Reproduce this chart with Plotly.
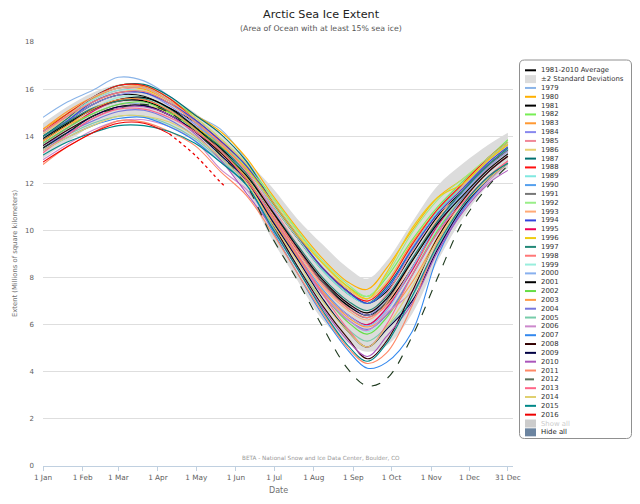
import plotly.graph_objects as go

# day of year for each sample
days = [1, 20, 40, 60, 80, 100, 120, 140, 160, 180, 200, 220, 240, 255, 270, 290, 310, 330, 350, 365]

avg_1981_2010 = [13.8, 14.5, 15.15, 15.5, 15.5, 15.05, 14.4, 13.5, 12.35, 10.75, 9.2, 7.8, 6.8, 6.4, 6.9, 8.4, 10.3, 11.7, 12.8, 13.4]
sd2_upper = [14.55, 15.25, 15.85, 16.2, 16.2, 15.67, 15.0, 14.1, 13.0, 11.85, 10.5, 9.4, 8.4, 7.95, 8.7, 10.35, 11.9, 12.85, 13.65, 14.15]
sd2_lower = [13.05, 13.75, 14.45, 14.8, 14.8, 14.43, 13.8, 12.9, 11.7, 9.65, 7.9, 6.2, 5.2, 4.85, 5.1, 6.45, 8.7, 10.55, 11.95, 12.65]

e1979 = [14.8, 15.45, 15.95, 16.5, 16.35, 15.7, 14.9, 14.3, 13.0, 11.35, 9.8, 8.4, 7.4, 6.9, 7.5, 9.3, 10.9, 12.1, 13.1, 13.75]
e1980 = [14.3, 14.95, 15.6, 16.05, 16.0, 15.5, 14.9, 14.2, 13.1, 11.55, 10.1, 8.8, 7.8, 7.5, 8.4, 10.0, 11.4, 12.2, 13.1, 13.75]
e1981 = [14.0, 14.65, 15.35, 15.75, 15.7, 15.2, 14.6, 13.7, 12.65, 11.15, 9.7, 8.4, 7.4, 6.9, 7.4, 9.0, 10.6, 11.7, 12.7, 13.45]
e1982 = [14.2, 14.95, 15.65, 16.15, 16.15, 15.6, 14.8, 13.9, 12.85, 11.45, 10.0, 8.6, 7.6, 7.2, 8.0, 9.6, 11.0, 12.1, 13.1, 13.85]
e1983 = [14.3, 15.05, 15.65, 16.05, 16.1, 15.5, 14.7, 13.8, 12.75, 11.15, 9.7, 8.4, 7.5, 7.1, 7.8, 9.5, 10.9, 12.0, 13.1, 13.75]
e1984 = [14.0, 14.65, 15.35, 15.75, 15.85, 15.3, 14.5, 13.6, 12.45, 10.95, 9.3, 7.9, 6.9, 6.4, 7.1, 8.8, 10.4, 11.7, 12.8, 13.45]
e1985 = [14.2, 14.85, 15.55, 15.95, 16.05, 15.5, 14.7, 13.8, 12.65, 11.05, 9.4, 7.9, 6.9, 6.5, 7.3, 9.1, 10.7, 11.8, 12.9, 13.55]
e1986 = [14.1, 14.75, 15.45, 15.85, 15.95, 15.4, 14.8, 13.9, 12.85, 11.35, 9.9, 8.6, 7.5, 7.1, 7.8, 9.4, 10.9, 12.0, 13.1, 13.75]
e1987 = [14.0, 14.75, 15.65, 16.15, 16.2, 15.7, 14.9, 14.1, 12.95, 11.25, 9.7, 8.3, 7.3, 6.9, 7.6, 9.2, 10.8, 11.9, 13.0, 13.65]
e1988 = [14.2, 14.95, 15.65, 16.15, 16.15, 15.6, 14.7, 13.8, 12.75, 11.25, 9.7, 8.4, 7.4, 7.0, 7.7, 9.4, 10.9, 12.0, 13.1, 13.75]
e1989 = [14.1, 14.85, 15.55, 15.95, 15.9, 15.4, 14.6, 13.7, 12.65, 11.15, 9.7, 8.3, 7.3, 6.9, 7.5, 9.2, 10.8, 11.9, 13.0, 13.65]
e1990 = [14.2, 14.85, 15.65, 16.05, 16.05, 15.5, 14.6, 13.6, 12.35, 10.65, 9.0, 7.5, 6.4, 6.0, 6.7, 8.4, 10.3, 11.6, 12.8, 13.45]
e1991 = [13.85, 14.6, 15.1, 15.5, 15.6, 15.05, 14.3, 13.4, 12.35, 10.75, 9.2, 7.8, 6.7, 6.3, 7.0, 8.7, 10.4, 11.7, 12.8, 13.4]
e1992 = [13.9, 14.65, 15.45, 15.85, 15.85, 15.4, 14.6, 13.7, 12.75, 11.45, 10.0, 8.7, 7.7, 7.2, 8.1, 9.9, 11.3, 12.2, 13.1, 13.75]
e1993 = [14.1, 14.85, 15.65, 16.05, 16.05, 15.5, 14.7, 13.7, 12.45, 10.75, 9.1, 7.6, 6.6, 6.2, 6.9, 8.7, 10.5, 11.9, 13.0, 13.65]
e1994 = [13.9, 14.65, 15.45, 15.85, 15.85, 15.4, 14.7, 13.8, 12.75, 11.25, 9.8, 8.4, 7.4, 6.9, 7.5, 9.2, 10.7, 11.8, 12.9, 13.55]
e1995 = [13.7, 14.35, 15.05, 15.55, 15.55, 15.1, 14.3, 13.4, 12.25, 10.55, 8.9, 7.4, 6.4, 6.0, 6.7, 8.3, 10.2, 11.5, 12.6, 13.25]
e1996 = [13.8, 14.45, 14.95, 15.35, 15.35, 15.0, 14.4, 13.6, 12.65, 11.25, 9.8, 8.6, 7.6, 7.1, 8.2, 10.1, 11.4, 12.0, 13.0, 13.65]
e1997 = [14.0, 14.6, 15.2, 15.5, 15.6, 15.15, 14.35, 13.55, 12.45, 10.85, 9.4, 8.0, 7.0, 6.6, 7.2, 8.8, 10.4, 11.7, 12.8, 13.5]
e1998 = [14.2, 14.85, 15.45, 15.85, 15.9, 15.4, 14.6, 13.7, 12.55, 10.85, 9.2, 7.7, 6.7, 6.3, 6.8, 8.4, 10.1, 11.5, 12.7, 13.35]
e1999 = [13.9, 14.55, 15.15, 15.65, 15.65, 15.1, 14.3, 13.4, 12.35, 10.55, 8.8, 7.3, 6.2, 5.7, 6.3, 8.1, 10.1, 11.5, 12.6, 13.25]
e2000 = [13.7, 14.35, 14.95, 15.35, 15.35, 14.9, 14.2, 13.2, 12.15, 10.55, 8.9, 7.4, 6.4, 5.95, 6.6, 8.4, 10.3, 11.6, 12.7, 13.35]
e2001 = [13.9, 14.55, 15.15, 15.55, 15.65, 15.2, 14.4, 13.4, 12.35, 10.85, 9.3, 7.9, 6.9, 6.5, 7.1, 8.7, 10.3, 11.5, 12.6, 13.25]
e2002 = [13.7, 14.35, 14.95, 15.35, 15.45, 15.0, 14.3, 13.4, 12.25, 10.55, 8.8, 7.3, 6.1, 5.6, 6.3, 8.1, 10.0, 11.4, 12.5, 13.15]
e2003 = [13.8, 14.45, 15.15, 15.55, 15.55, 15.1, 14.3, 13.3, 12.25, 10.55, 8.9, 7.4, 6.3, 5.9, 6.4, 7.8, 9.7, 11.3, 12.5, 13.15]
e2004 = [13.6, 14.15, 14.65, 15.05, 15.1, 14.7, 14.0, 13.1, 12.05, 10.45, 8.8, 7.3, 6.2, 5.8, 6.4, 8.1, 9.9, 11.4, 12.5, 13.15]
e2005 = [13.5, 14.05, 14.55, 14.85, 14.85, 14.5, 13.9, 13.0, 11.95, 10.25, 8.5, 7.0, 5.8, 5.3, 5.9, 7.2, 9.3, 11.1, 12.2, 12.85]
e2006 = [13.0, 13.65, 14.25, 14.65, 14.7, 14.4, 13.8, 12.6, 11.75, 10.35, 8.8, 7.3, 6.2, 5.75, 6.5, 7.4, 9.2, 10.9, 12.1, 12.85]
e2007 = [13.4, 13.95, 14.45, 14.75, 14.8, 14.4, 13.8, 12.9, 11.95, 10.05, 8.2, 6.4, 4.9, 4.15, 4.4, 5.7, 8.9, 10.9, 12.2, 12.95]
e2008 = [13.6, 14.25, 14.85, 15.25, 15.3, 14.9, 14.2, 13.3, 12.15, 10.35, 8.5, 6.8, 5.4, 4.55, 5.3, 7.4, 9.7, 11.3, 12.5, 13.15]
e2009 = [13.5, 14.15, 14.85, 15.25, 15.3, 14.9, 14.2, 13.2, 12.15, 10.45, 8.8, 7.1, 5.7, 5.05, 5.8, 7.0, 9.2, 11.0, 12.2, 12.85]
e2010 = [13.4, 14.05, 14.75, 15.2, 15.25, 14.9, 14.1, 13.0, 11.6, 10.15, 8.4, 6.7, 5.3, 4.65, 5.5, 6.9, 9.1, 10.8, 12.0, 12.55]
e2011 = [12.8, 13.55, 14.15, 14.65, 14.6, 14.2, 13.6, 12.5, 11.5, 9.95, 8.2, 6.5, 5.0, 4.35, 4.8, 6.8, 9.5, 11.1, 12.3, 12.95]
e2012 = [13.5, 14.15, 14.85, 15.2, 15.35, 15.0, 14.2, 13.2, 11.95, 9.75, 7.9, 5.9, 4.1, 3.4, 3.7, 5.5, 8.0, 10.4, 11.9, 12.75]
e2013 = [13.3, 14.05, 14.75, 15.15, 15.15, 14.8, 14.2, 13.4, 12.15, 10.65, 9.0, 7.3, 5.8, 5.05, 6.0, 8.1, 9.9, 11.2, 12.3, 12.95]
e2014 = [13.4, 13.95, 14.45, 14.85, 14.85, 14.6, 14.0, 13.1, 12.05, 10.35, 8.7, 7.0, 5.7, 5.05, 5.9, 7.6, 9.6, 11.1, 12.2, 12.85]
e2015 = [13.2, 13.75, 14.15, 14.45, 14.45, 14.2, 13.7, 12.9, 11.95, 10.15, 8.4, 6.6, 5.1, 4.45, 5.2, 7.2, 9.4, 11.1, 12.3, 12.85]

days_2016 = [1, 20, 40, 60, 80, 100, 120, 140, 144]
e2016 = [12.9, 13.55, 14.15, 14.55, 14.55, 14.1, 13.2, 12.05, 11.85]

years = list(range(1979, 2017))
year_colors = [
    "#8ab4e8", "#ffb000", "#000000", "#77ee55", "#ff9933", "#8888ee", "#f08898", "#e8d070",
    "#007070", "#ff1010", "#80e8e0", "#55a0ee", "#777777", "#99ee88", "#ffaa77", "#3344dd",
    "#ee0055", "#eecc11", "#228877", "#ff7777", "#99eedd", "#88b0ee", "#000000", "#66dd44",
    "#ff9944", "#7777dd", "#77ccaa", "#cc88cc", "#3388ee", "#330000", "#000044", "#aa55bb",
    "#ff8866", "#1e3a1e", "#ff6688", "#e0d070", "#008888", "#ee0000",
]
series = [e1979, e1980, e1981, e1982, e1983, e1984, e1985, e1986, e1987, e1988,
          e1989, e1990, e1991, e1992, e1993, e1994, e1995, e1996, e1997, e1998,
          e1999, e2000, e2001, e2002, e2003, e2004, e2005, e2006, e2007, e2008,
          e2009, e2010, e2011, e2012, e2013, e2014, e2015, e2016]

month_ticks = [1, 32, 60, 91, 121, 152, 182, 213, 244, 274, 305, 335, 365]
month_labels = ["1 Jan", "1 Feb", "1 Mar", "1 Apr", "1 May", "1 Jun", "1 Jul",
                "1 Aug", "1 Sep", "1 Oct", "1 Nov", "1 Dec", "31 Dec"]

FONT = "DejaVu Sans"
# the page body has an 8px margin, so the figure is made 8px smaller and
# every hand placed item below is given in page pixels
OFF = 8
W, H = 640 - OFF, 504 - OFF
PLOT_L, PLOT_R, PLOT_T, PLOT_B = 43, 513, 42, 466
PW, PH = PLOT_R - PLOT_L, PLOT_B - PLOT_T


def px(x):
    return (x - PLOT_L) / PW


def py(y):
    return (PLOT_B - y) / PH


fig = go.Figure()

# +-2 std band
fig.add_trace(go.Scatter(x=days, y=sd2_lower, mode="lines", line=dict(width=0, shape="spline"),
                         hoverinfo="skip", showlegend=False))
fig.add_trace(go.Scatter(x=days, y=sd2_upper, mode="lines", line=dict(width=0, shape="spline"),
                         fill="tonexty", fillcolor="#dcdcdc", hoverinfo="skip", showlegend=False))
fig.add_trace(go.Scatter(x=days, y=avg_1981_2010, mode="lines", name="1981-2010 Average",
                         line=dict(color="black", width=1.5, shape="spline"), showlegend=False))

for yr, col, vals in zip(years, year_colors, series):
    if yr == 2016:
        # current year: solid through early April, dotted afterwards
        fig.add_trace(go.Scatter(x=days_2016[:6], y=vals[:6], mode="lines", name=str(yr),
                                 line=dict(color=col, width=1.1, shape="spline"), showlegend=False))
        fig.add_trace(go.Scatter(x=days_2016[5:], y=vals[5:], mode="lines", name=str(yr),
                                 line=dict(color=col, width=1.3, shape="spline", dash="dot"),
                                 showlegend=False))
        continue
    dash = "dash" if yr == 2012 else "solid"
    fig.add_trace(go.Scatter(x=days, y=vals, mode="lines", name=str(yr),
                             line=dict(color=col, width=1.1, shape="spline", dash=dash),
                             showlegend=False))

# hand-made legend (plotly's own legend rows are too tall for 42 entries)
shapes = []
annotations = []
lx0, lx1, ly0, ly1 = 519.5, 631.5, 60, 438.5
rx, ry = 5 / PW, 5 / PH
x0, x1, yb, yt = px(lx0), px(lx1), py(ly1), py(ly0)
path = (f"M {x0+rx},{yt} L {x1-rx},{yt} Q {x1},{yt} {x1},{yt-ry} L {x1},{yb+ry} "
        f"Q {x1},{yb} {x1-rx},{yb} L {x0+rx},{yb} Q {x0},{yb} {x0},{yb+ry} "
        f"L {x0},{yt-ry} Q {x0},{yt} {x0+rx},{yt} Z")
shapes.append(dict(type="path", xref="paper", yref="paper", path=path,
                   line=dict(color="#909090", width=1), fillcolor="white", layer="below"))

entries = [("1981-2010 Average", "line", "black", "#333333"),
           ("\u00b12 Standard Deviations", "box", "#dcdcdc", "#333333")]
entries += [(str(yr), "line", col, "#333333") for yr, col in zip(years, year_colors)]
entries += [("Show all", "box", "#cccccc", "#cccccc"), ("Hide all", "box", "#6b84a0", "#222222")]

for k, (text, kind, col, tcol) in enumerate(entries):
    yk = 70.3 + 8.83 * k
    if kind == "line":
        dash = "dash" if text == "2012" else "solid"
        lc = "#5a725a" if text == "2012" else col
        shapes.append(dict(type="line", xref="paper", yref="paper", x0=px(525), x1=px(536),
                           y0=py(yk), y1=py(yk), line=dict(color=lc, width=2, dash=dash)))
    else:
        shapes.append(dict(type="rect", xref="paper", yref="paper", x0=px(525), x1=px(536),
                           y0=py(yk + 4), y1=py(yk - 4), line=dict(width=0), fillcolor=col))
    annotations.append(dict(text=text, x=px(539), y=py(yk), xref="paper", yref="paper",
                            xanchor="left", yanchor="middle", showarrow=False,
                            font=dict(family=FONT, size=6.9, color=tcol)))


def label(text, x, y, size, color, angle=0):
    return dict(text=text, x=px(x), y=py(y), xref="paper", yref="paper", showarrow=False,
                xanchor="center", yanchor="middle", textangle=angle,
                font=dict(family=FONT, size=size, color=color))


annotations += [
    label("Arctic Sea Ice Extent", 321, 14.5, 11.2, "#222222"),
    label("(Area of Ocean with at least 15% sea ice)", 321, 28.5, 7.8, "#555555"),
    label("Extent (Millions of square kilometers)", 15, 254, 6.8, "#707070", -90),
    label("Date", 278, 490, 8, "#707070"),
    label("BETA - National Snow and Ice Data Center, Boulder, CO", 321, 458, 5.7, "#999999"),
]

fig.update_layout(
    width=W, height=H,
    margin=dict(l=PLOT_L - OFF, r=W - (PLOT_R - OFF), t=PLOT_T - OFF, b=H - (PLOT_B - OFF)),
    paper_bgcolor="white", plot_bgcolor="white",
    showlegend=False,
    shapes=shapes, annotations=annotations,
    font=dict(family=FONT, size=7, color="#606060"),
)
fig.update_xaxes(range=[1, 369], tickvals=month_ticks, ticktext=month_labels,
                 showgrid=False, zeroline=False, showline=True, linecolor="#c0d0e0",
                 ticks="outside", ticklen=4, tickcolor="#c0d0e0",
                 tickfont=dict(family=FONT, size=7.3, color="#606060"))
fig.update_yaxes(range=[0, 18], dtick=2, showgrid=True, gridcolor="#dedede", zeroline=False,
                 showline=False, ticks="", ticklabelstandoff=8,
                 tickfont=dict(family=FONT, size=7, color="#606060"))

fig.write_html("out.html")
